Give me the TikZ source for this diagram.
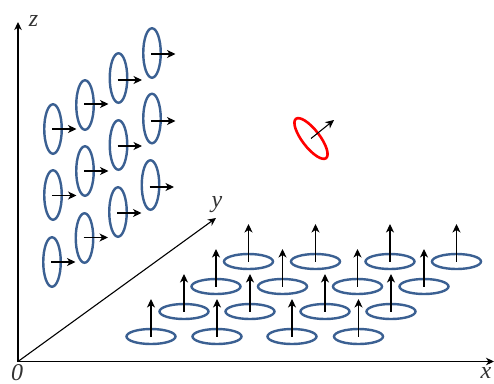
\documentclass[tikz,border=0pt]{standalone}
\usepackage{fontspec}
\setmainfont{Liberation Serif}
\usetikzlibrary{arrows.meta,shapes.geometric}
\definecolor{ringblue}{RGB}{59,96,146}
\begin{document}
\begin{tikzpicture}[x=1pt,y=-1pt,
    axis/.style={-{Stealth[length=8pt,width=7.5pt,inset=2.5pt]},line width=1.1pt},
    spin/.style={-{Stealth[length=8.5pt,width=8pt,inset=2.5pt]},line width=1.05pt},
    wallring/.style={ellipse,draw=ringblue,line width=2.4pt,minimum width=17.5pt,minimum height=49.5pt,inner sep=0pt},
    floorring/.style={ellipse,draw=ringblue,line width=2.4pt,minimum width=49pt,minimum height=15pt,inner sep=0pt},
    lab/.style={font=\fontsize{24}{24}\selectfont\itshape,text=black!80,inner sep=0pt}]
  \useasboundingbox (0,0) rectangle (494,383);
  % axes
  \coordinate (O) at (18,361.5);
  \coordinate (xend) at (494,361.5);
  \coordinate (yend) at (216,218);
  \coordinate (zend) at (18,22);
  \draw[axis] (O) -- (xend);
  \draw[axis] (O) -- (yend);
  \draw[axis] (O) -- (zend);
  \node[lab] (zlab) at (33.5,20.5) {z};
  \node[lab] (ylab) at (217,205) {y};
  \node[lab] (xlab) at (486,373) {x};
  \node[lab] (olab) at (17,372.5) {0};
  % rings on the wall
  \foreach \cx/\cy/\ay [count=\i] in {
      53/129/129, 85/105/104, 118.5/78/80, 152/53/54,
      53/195/195.5, 85/171/171, 118.5/145/146, 152/118.5/121,
      52/262/262, 84.5/238/237.5, 118/212/213, 150.5/185/187}{
    \node[wallring] (w\i) at (\cx,\cy) {};
    \coordinate (ws\i) at (\cx-1,\ay);
    \coordinate (wt\i) at (\cx+23.5,\ay);
    \draw[spin] (ws\i) -- (wt\i);
  }
  % rings on the floor
  \foreach \cx/\cy [count=\i] in {
      151/336.5, 217/336.5, 292/336.5, 358.5/336.5,
      184/311.5, 250/311.5, 325/311.5, 391/311.5,
      216/286.5, 282.5/286.5, 357.5/286.5, 424/286.5,
      248.5/261.5, 315.5/261.5, 390/261.5, 456.5/261.5}{
    \node[floorring] (f\i) at (\cx,\cy) {};
    \coordinate (ft\i) at (\cx,\cy-37.5);
    \draw[spin] (f\i.center) -- (ft\i);
  }
  % tilted ring
  \node[wallring,draw=red,line width=2.6pt,rotate=37.5] (tilt) at (311,138.5) {};
  \coordinate (tiltend) at (334,120);
  \draw[spin] (tilt.center) -- (tiltend);
\end{tikzpicture}
\end{document}
